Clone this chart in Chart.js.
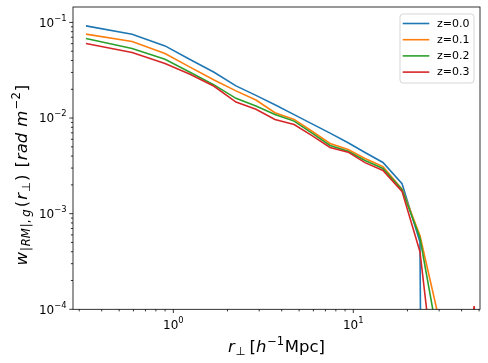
<!DOCTYPE html>
<html>
<head>
<meta charset="utf-8">
<script src="https://cdn.jsdelivr.net/npm/chart.js@4.4.1/dist/chart.umd.min.js"></script>
<style>
  html, body { margin: 0; padding: 0; background: #fff; }
  #wrap { width: 488px; height: 363px; position: relative; }
</style>
</head>
<body>
<div id="wrap"><canvas id="chart"></canvas></div>
<script>
// r_perp bins [h^-1 Mpc]
const rPerp = [0.327, 0.590, 0.899, 1.238, 1.684, 2.229, 2.878, 3.67, 4.69, 5.90,
               7.43, 9.36, 11.62, 14.62, 18.66, 23.47, 29.6, 37.2, 46.9, 59.0];

// 1e-30 stands for bins where the estimate is <= 0 (falls off the log axis)
const wZ00 = [0.0920, 0.0754, 0.0568, 0.0410, 0.0301, 0.0217, 0.01726, 0.01377, 0.01087, 0.00869,
              0.00695, 0.00551, 0.00436, 0.00343, 0.00206, 0.000506, 1e-30, 1e-30, 1e-30, 1e-30];
const wZ01 = [0.0754, 0.0632, 0.0473, 0.0341, 0.0250, 0.01923, 0.01542, 0.01137, 0.00968, 0.00728,
              0.00543, 0.00469, 0.00378, 0.00311, 0.00180, 0.000590, 0.000087, 1e-30, 1e-30, 1e-30];
const wZ02 = [0.0679, 0.0534, 0.0412, 0.0301, 0.0222, 0.01607, 0.01334, 0.01092, 0.00929, 0.00695,
              0.00516, 0.00450, 0.00360, 0.00297, 0.00178, 0.000556, 0.000049, 1e-30, 1e-30, 1e-30];
const wZ03 = [0.0602, 0.0484, 0.0372, 0.0287, 0.0215, 0.0147, 0.01233, 0.00968, 0.00857, 0.00654,
              0.00492, 0.00440, 0.00342, 0.00283, 0.00171, 0.000400, 0.0000092, 1e-6, 0.000108, 1e-6];

const seriesLabels = ['z=0.0', 'z=0.1', 'z=0.2', 'z=0.3'];
const seriesColors = ['#1f77b4', '#ff7f0e', '#2ca02c', '#d62728'];

const xMajorTicks = [1, 10];
const xTickExps   = ['0', '1'];
const yMajorTicks = [1e-4, 1e-3, 1e-2, 1e-1];
const yTickExps   = ['\u22124', '\u22123', '\u22122', '\u22121'];

const X_MIN = 0.277, X_MAX = 50.6;
const Y_MIN = 1e-4,  Y_MAX = 0.145;

const FONT = '"DejaVu Sans", Verdana, sans-serif';
const TICK_PX = 12, TITLE_PX = 16.5;

// mathtext-ish runs: each part {t, size, it, dy, gap}
function runWidth(ctx, parts) {
  let w = 0;
  parts.forEach(p => {
    ctx.font = (p.it ? 'italic ' : '') + p.size + 'px ' + FONT;
    w += ctx.measureText(p.t).width + (p.gap || 0);
  });
  return w;
}
function drawRun(ctx, parts, x, y) {
  parts.forEach(p => {
    ctx.font = (p.it ? 'italic ' : '') + p.size + 'px ' + FONT;
    ctx.fillText(p.t, x, y + (p.dy || 0));
    x += ctx.measureText(p.t).width + (p.gap || 0);
  });
}

function logTickValues(min, max) {
  const out = [];
  for (let e = -5; e <= 3; e++) {
    for (let m = 1; m <= 9; m++) {
      const v = m * Math.pow(10, e);
      if (v >= min * 0.9999 && v <= max * 1.0001) out.push(v);
    }
  }
  return out;
}
const isMajor = (list, v) => list.some(t => Math.abs(t - v) / t < 1e-6);

const axesDecor = {
  id: 'axesDecor',
  afterDatasetsDraw(chart) {
    const { ctx, chartArea: a, scales: { x, y } } = chart;
    ctx.save();
    ctx.strokeStyle = '#000';
    ctx.fillStyle = '#000';
    ctx.lineWidth = 0.8;

    // ticks, outward
    ctx.beginPath();
    logTickValues(X_MIN, X_MAX).forEach(v => {
      const px = x.getPixelForValue(v);
      const len = isMajor(xMajorTicks, v) ? 3.7 : 2.1;
      ctx.moveTo(px, a.bottom); ctx.lineTo(px, a.bottom + len);
    });
    logTickValues(Y_MIN, Y_MAX).forEach(v => {
      const py = y.getPixelForValue(v);
      const len = isMajor(yMajorTicks, v) ? 3.7 : 2.1;
      ctx.moveTo(a.left, py); ctx.lineTo(a.left - len, py);
    });
    ctx.stroke();

    // frame
    ctx.strokeRect(a.left, a.top, a.right - a.left, a.bottom - a.top);

    // tick labels
    ctx.textBaseline = 'alphabetic';
    ctx.textAlign = 'left';
    const sup = TICK_PX * 0.7;
    xMajorTicks.forEach((v, i) => {
      const parts = [{ t: '10', size: TICK_PX }, { t: xTickExps[i], size: sup, dy: -6 }];
      drawRun(ctx, parts, x.getPixelForValue(v) - runWidth(ctx, parts) / 2, a.bottom + 20);
    });
    yMajorTicks.forEach((v, i) => {
      const parts = [{ t: '10', size: TICK_PX }, { t: yTickExps[i], size: sup, dy: -6 }];
      drawRun(ctx, parts, a.left - 6.5 - runWidth(ctx, parts), y.getPixelForValue(v) + 4.4);
    });

    const S = TITLE_PX, s = TITLE_PX * 0.7;

    // x axis title: r_perp [h^-1 Mpc]
    const xt = [
      { t: 'r', size: S, it: true, gap: 0.5 },
      { t: '\u22a5', size: s, dy: 3.3, gap: 4 },
      { t: '[', size: S },
      { t: 'h', size: S, it: true, gap: 0.8 },
      { t: '\u22121', size: s, dy: -6.5, gap: 0.5 },
      { t: 'Mpc]', size: S }
    ];
    drawRun(ctx, xt, (a.left + a.right) / 2 - runWidth(ctx, xt) / 2, 351.5);

    // y axis title: w_{|RM|,g}(r_perp) [rad m^-2]
    const yt = [
      { t: 'w', size: S, it: true, gap: 1 },
      { t: '|', size: s, dy: 3.4, gap: 1 },
      { t: 'RM', size: s, dy: 3.4, it: true, gap: 1 },
      { t: '|,', size: s, dy: 3.4, gap: 3 },
      { t: 'g', size: s, dy: 3.4, it: true, gap: 2 },
      { t: '(', size: S, gap: 1 },
      { t: 'r', size: S, it: true, gap: 1 },
      { t: '\u22a5', size: s, dy: 3.4, gap: 1 },
      { t: ')', size: S, gap: 7 },
      { t: '[', size: S, gap: 1 },
      { t: 'rad', size: S, it: true, gap: 6 },
      { t: 'm', size: S, it: true, gap: 1.5 },
      { t: '\u22122', size: s, dy: -6.8, gap: 1 },
      { t: ']', size: S }
    ];
    ctx.save();
    ctx.translate(26.5, (a.top + a.bottom) / 2 + 17);
    ctx.rotate(-Math.PI / 2);
    drawRun(ctx, yt, -runWidth(ctx, yt) / 2, 0);
    ctx.restore();

    // legend box (upper right)
    const lx = 400, ly = 14, lw = 74, lh = 69;
    ctx.beginPath();
    ctx.roundRect(lx, ly, lw, lh, 3);
    ctx.fillStyle = 'rgba(255,255,255,0.8)';
    ctx.fill();
    ctx.strokeStyle = 'rgba(204,204,204,0.8)';
    ctx.lineWidth = 1;
    ctx.stroke();
    ctx.font = '11px ' + FONT;
    ctx.textBaseline = 'middle';
    chart.data.datasets.forEach((ds, i) => {
      const yy = ly + 9.5 + i * 16.2;
      ctx.strokeStyle = ds.borderColor;
      ctx.lineWidth = 1.6;
      ctx.beginPath();
      ctx.moveTo(lx + 2.7, yy); ctx.lineTo(lx + 29.3, yy);
      ctx.stroke();
      ctx.fillStyle = '#000';
      ctx.fillText(ds.label, lx + 37, yy + 0.5);
    });
    ctx.restore();
  }
};

const allSeries = [wZ00, wZ01, wZ02, wZ03];

new Chart(document.getElementById('chart'), {
  type: 'line',
  data: {
    datasets: allSeries.map((vals, i) => ({
      label: seriesLabels[i],
      data: rPerp.map((r, j) => ({ x: r, y: vals[j] })),
      borderColor: seriesColors[i],
      backgroundColor: seriesColors[i],
      borderWidth: 1.6,
      pointRadius: 0,
      tension: 0,
      fill: false,
      order: allSeries.length - i   // later series drawn on top
    }))
  },
  options: {
    responsive: true,
    maintainAspectRatio: false,
    animation: false,
    events: [],
    layout: { padding: { left: 73, right: 8, top: 7, bottom: 53.7 } },
    plugins: { legend: { display: false }, tooltip: { enabled: false } },
    scales: {
      x: { type: 'logarithmic', min: X_MIN, max: X_MAX, display: false },
      y: { type: 'logarithmic', min: Y_MIN, max: Y_MAX, display: false }
    }
  },
  plugins: [axesDecor]
});
</script>
</body>
</html>
